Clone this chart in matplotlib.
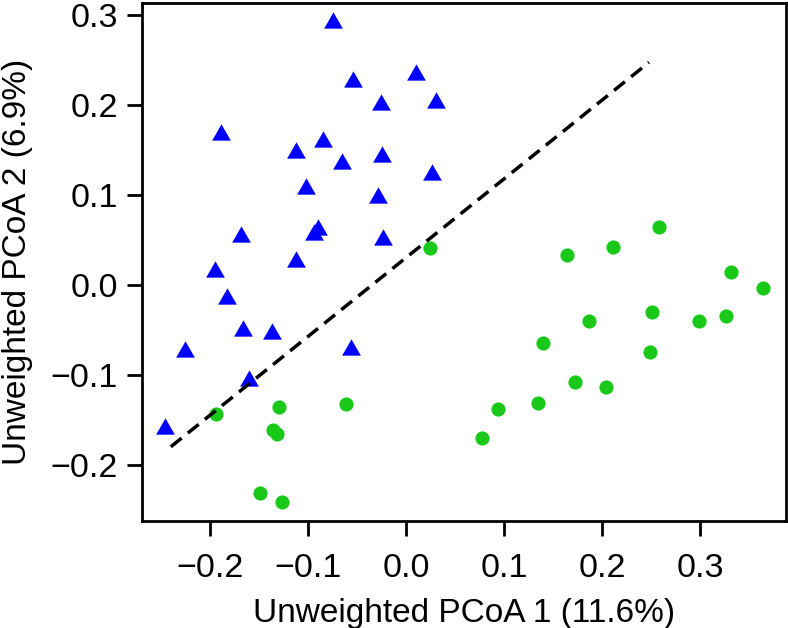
import matplotlib
matplotlib.use("Agg")
import matplotlib.pyplot as plt

# Group 1 (blue triangles)
tri_x = [-0.0745, -0.0538, 0.0102, -0.0252, 0.031, -0.1888, -0.085, -0.112, -0.0245,
         -0.065, 0.0262, -0.1017, -0.0289, -0.168, -0.0895, -0.0936, -0.0231, -0.1126,
         -0.1946, -0.1827, -0.1663, -0.1367, -0.2255, -0.0565, -0.160, -0.2456]
tri_y = [0.295, 0.229, 0.237, 0.2036, 0.2054, 0.170, 0.162, 0.1498, 0.1453,
         0.1376, 0.1257, 0.1105, 0.0998, 0.057, 0.0642, 0.0586, 0.0530, 0.0293,
         0.0182, -0.0122, -0.0475, -0.0512, -0.0716, -0.069, -0.103, -0.1568]

# Group 2 (green circles)
cir_x = [0.0242, -0.1935, -0.1299, -0.0609, -0.1357, -0.1316, -0.1487, -0.1268,
         0.1643, 0.2112, 0.2582, 0.3316, 0.3646, 0.1867, 0.2514, 0.2986, 0.3269,
         0.1398, 0.249, 0.1728, 0.2037, 0.1347, 0.0935, 0.0776]
cir_y = [0.0408, -0.1435, -0.136, -0.1324, -0.1613, -0.1657, -0.231, -0.2417,
         0.0334, 0.0426, 0.0649, 0.0141, -0.0033, -0.0404, -0.0304, -0.0397, -0.0345,
         -0.0641, -0.0745, -0.1083, -0.1138, -0.1309, -0.1383, -0.1698]

# Separating dashed line
line_x = [-0.240, 0.248]
line_y = [-0.180, 0.2477]

xticks = [-0.2, -0.1, 0.0, 0.1, 0.2, 0.3]
yticks = [-0.2, -0.1, 0.0, 0.1, 0.2, 0.3]
xlabels = ["\u22120.2", "\u22120.1", "0.0", "0.1", "0.2", "0.3"]
ylabels = ["\u22120.2", "\u22120.1", "0.0", "0.1", "0.2", "0.3"]

plt.rcParams['font.family'] = ['Liberation Sans', 'DejaVu Sans']

fig = plt.figure(figsize=(7.88, 6.28), dpi=100)
ax = fig.add_axes([0.1798, 0.1709, 0.8177, 0.8243])

tri_marker = [(-1, -0.87), (1, -0.87), (0, 0.87), (-1, -0.87)]
ax.scatter(tri_x, tri_y, marker=tri_marker, s=13.5**2, c='#0000ff', linewidths=0, zorder=3)
ax.scatter(cir_x, cir_y, marker='o', s=10.2**2, c='#19c819', linewidths=0, zorder=3)
ax.plot(line_x, line_y, color='black', lw=2.5, dashes=(4, 2.3), zorder=4)

ax.set_xlim(-0.2697, 0.3878)
ax.set_ylim(-0.2622, 0.3137)
ax.set_xticks(xticks)
ax.set_xticklabels(xlabels)
ax.set_yticks(yticks)
ax.set_yticklabels(ylabels)
ax.tick_params(axis='both', direction='out', length=11, width=2.0, labelsize=24.5, color='black')
ax.tick_params(axis='x', pad=12)
ax.tick_params(axis='y', pad=6)
for sp in ax.spines.values():
    sp.set_linewidth(2.0)

ax.set_xlabel("Unweighted PCoA 1 (11.6%)", fontsize=24, labelpad=10)
ax.set_ylabel("Unweighted PCoA 2 (6.9%)", fontsize=24, labelpad=13)

fig.savefig("out.png", dpi=100)
